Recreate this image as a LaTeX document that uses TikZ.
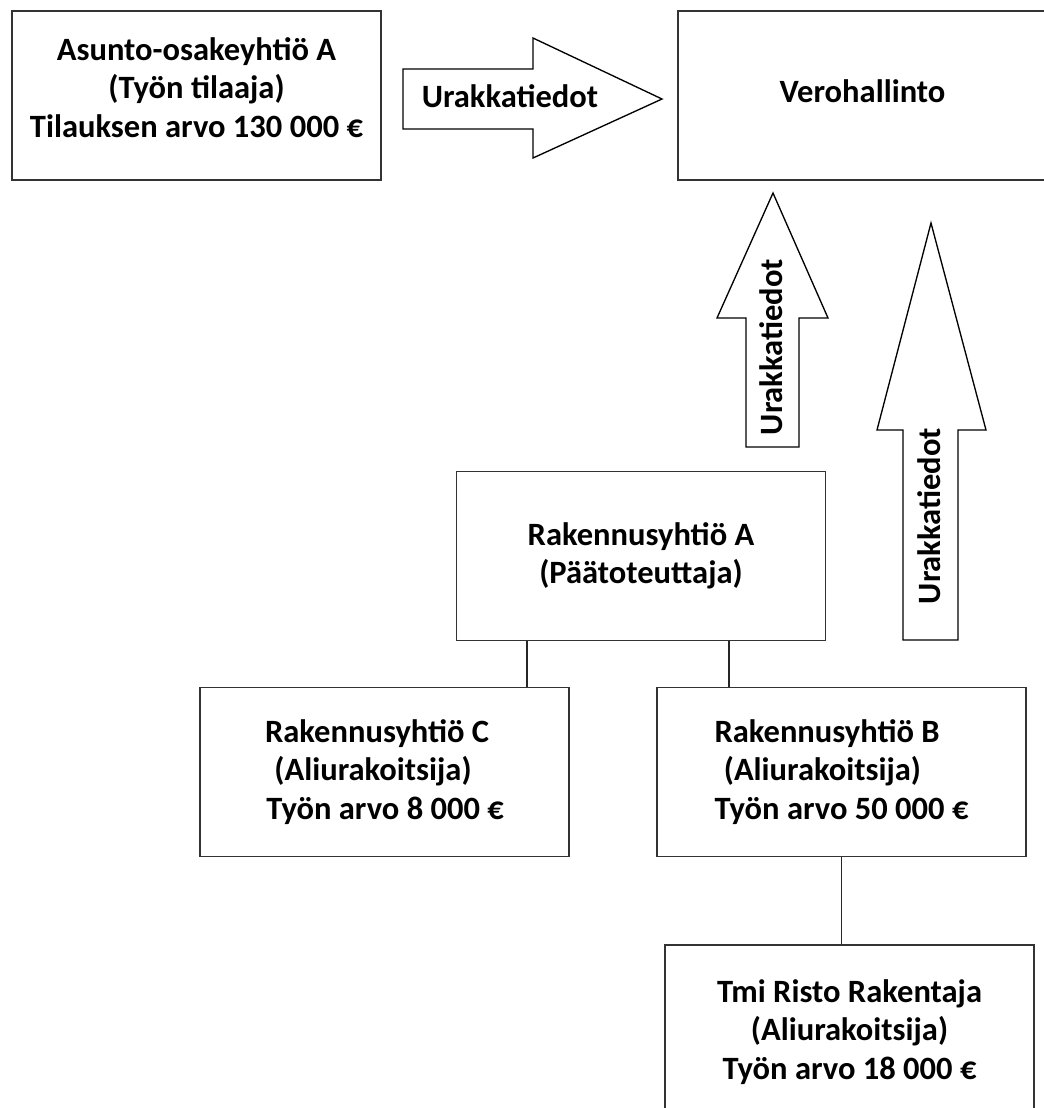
\documentclass[tikz,border=0pt]{standalone}
\usepackage{fontspec}
\setmainfont{Carlito}
\tikzset{
    orgbox/.style={rectangle, draw=black!80, fill=white, line width=1.4pt, minimum width=276.75pt, minimum height=126.75pt, align=center, inner sep=0pt, font=\bfseries\fontsize{24.4}{28.9}\selectfont},
    subbox/.style={orgbox, align=left},
    blockarrow/.style={draw=black, fill=white, line width=1pt, line join=miter},
    arrowlabel/.style={inner sep=0pt, font=\bfseries\fontsize{24.4}{28.9}\selectfont},
    orgline/.style={draw=black!85, line width=1.4pt}
}

\begin{document}
\begin{tikzpicture}[x=0.75pt, y=-0.75pt]

\useasboundingbox (0,0) rectangle (1044,1108);
\clip (0,0) rectangle (1044,1108);
\fill[white] (0,0) rectangle (1044,1108);

% top row
\node[orgbox, text depth=12pt] (aoy) at (196.5,95.5) {Asunto-osakeyhtiö A\\(Työn tilaaja)\\Tilauksen arvo 130 000 €};
\node[orgbox, text depth=6pt] (vero) at (862.5,95.5) {Verohallinto};

% urakkatiedot arrows
\draw[blockarrow] (403,69) -- (533,69) -- (533,38) -- (662,99) -- (533,158) -- (533,129) -- (403,129) -- cycle;
\node[arrowlabel] (tieto1) at (510,96) {Urakkatiedot};

\draw[blockarrow] (746,447) -- (746,318) -- (717,318) -- (773,193) -- (828,318) -- (799,318) -- (799,447) -- cycle;
\node[arrowlabel, rotate=90] (tieto2) at (771,347) {Urakkatiedot};

\draw[blockarrow] (903,640) -- (903,430) -- (877,430) -- (931,223) -- (986,430) -- (958,430) -- (958,640) -- cycle;
\node[arrowlabel, rotate=90] (tieto3) at (929.5,516) {Urakkatiedot};

% urakoitsijat
\node[orgbox] (ra) at (641,556) {Rakennusyhtiö A\\(Päätoteuttaja)};
\node[subbox] (rc) at (384.5,772) {Rakennusyhtiö C\\\hspace*{7pt}(Aliurakoitsija)\\\hspace*{1pt}Työn arvo 8 000 €};
\node[subbox] (rb) at (841.5,772) {Rakennusyhtiö B\\\hspace*{7pt}(Aliurakoitsija)\\Työn arvo 50 000 €};
\node[orgbox, text depth=0pt] (tmi) at (849.5,1029.5) {Tmi Risto Rakentaja\\(Aliurakoitsija)\\Työn arvo 18 000 €};

\draw[orgline] ([xshift=-85.5pt]ra.south) -- ([xshift=-85.5pt]ra.south |- rc.north);
\draw[orgline] ([xshift=66pt]ra.south) -- ([xshift=66pt]ra.south |- rb.north);
\draw[orgline] (rb.south) -- (rb.south |- tmi.north);

\end{tikzpicture}
\end{document}
